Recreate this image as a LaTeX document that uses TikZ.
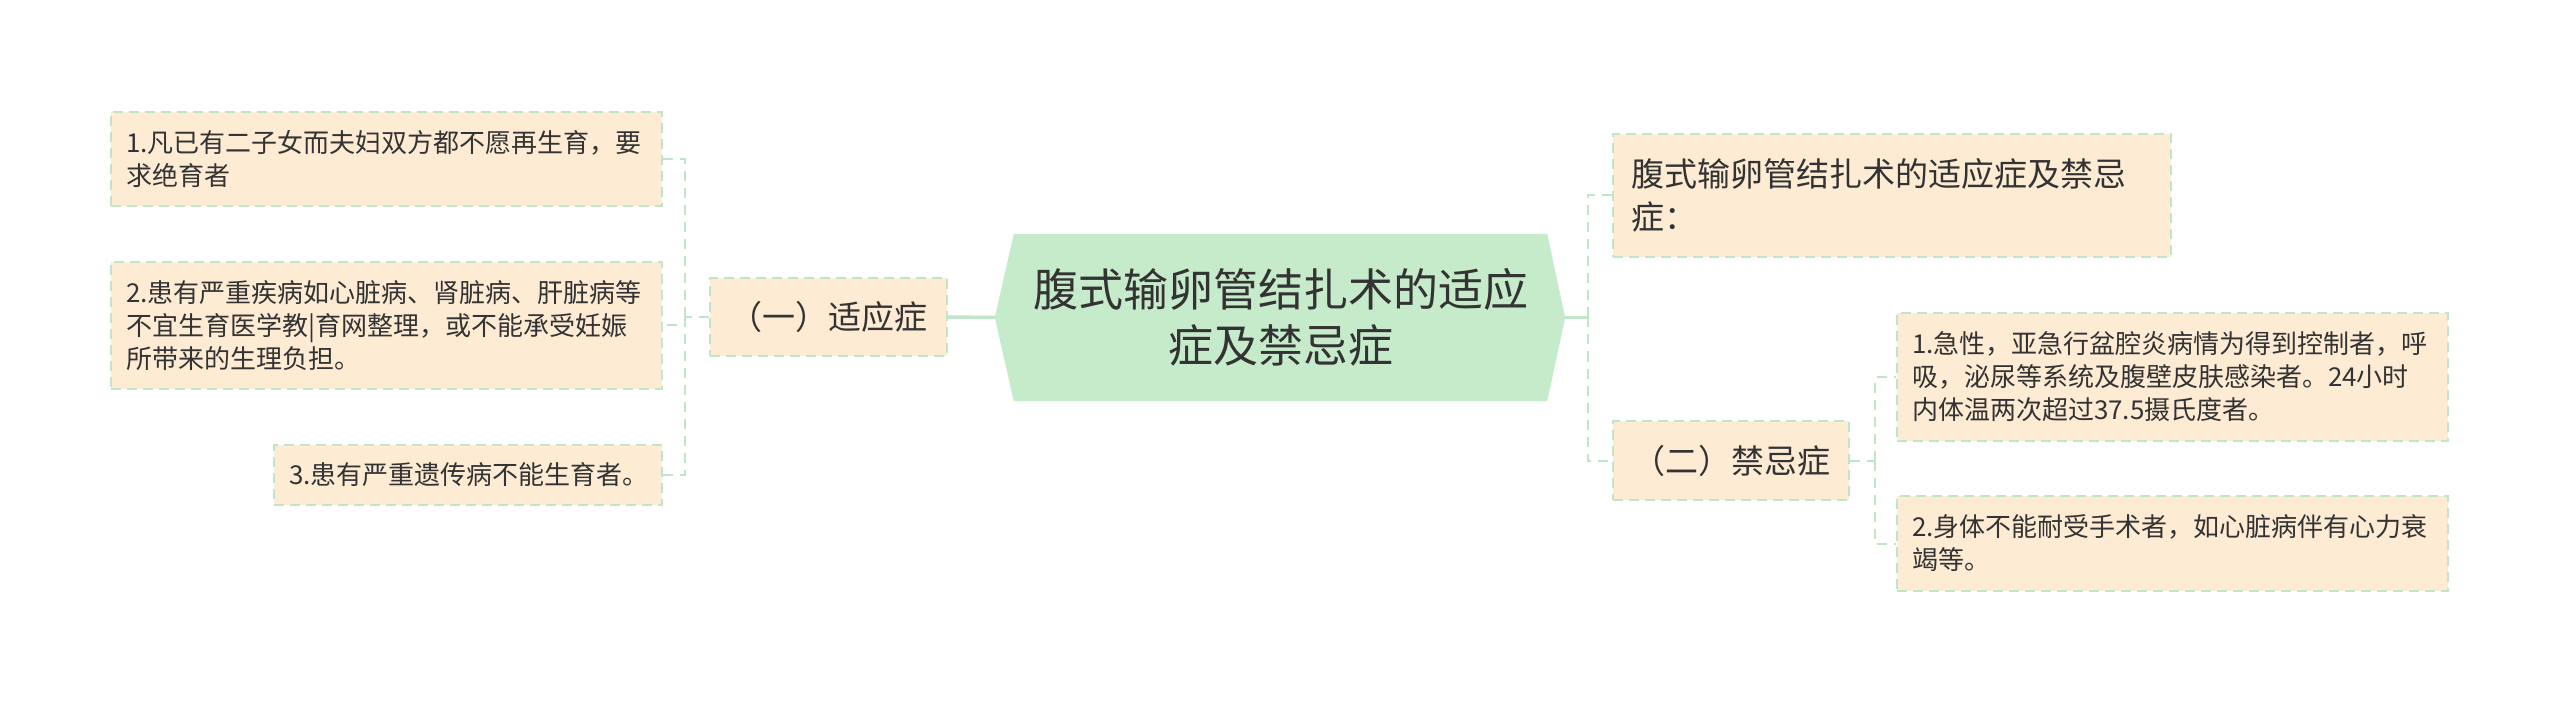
\documentclass[tikz,border=0pt]{standalone}
\usepackage{fontspec}
\setmainfont{Noto Sans CJK SC}
\usetikzlibrary{backgrounds}
\definecolor{peach}{HTML}{FDEBD4}
\definecolor{rootfill}{HTML}{C6EBCB}
\definecolor{lline}{HTML}{BFE6C8}
\definecolor{txt}{HTML}{333333}
\begin{document}
\begin{tikzpicture}[x=1pt,y=-1pt,
  box/.style={draw=lline, line width=2pt, dash pattern=on 10pt off 6pt, fill=peach, text=txt, inner ysep=0pt},
  leaf/.style={box, align=left, inner xsep=15pt, font=\fontsize{26}{33}\selectfont},
  lvlone/.style={box, align=center, inner xsep=0pt, font=\fontsize{33}{43}\selectfont},
  lvlonewide/.style={box, align=left, inner xsep=18pt, font=\fontsize{33}{43}\selectfont},
  rootnode/.style={text=txt, align=center, inner sep=0pt, font=\fontsize{45}{56}\selectfont},
  solidconn/.style={draw=lline, line width=3.5pt},
  dashconn/.style={draw=lline, line width=2pt, dash pattern=on 10pt off 7pt}]
\begin{scope}[on background layer]
\fill[white] (0,0) rectangle (2560,703);
\end{scope}
\useasboundingbox (0,0) rectangle (2560,703);

% root
\node[rootnode, minimum width=533pt, minimum height=167pt] (root) at (1280.5,317.5)
  {腹式输卵管结扎术的适应\\症及禁忌症};
\coordinate (rootL) at ([xshift=-19pt]root.west);
\coordinate (rootR) at ([xshift=18pt]root.east);
\begin{scope}[on background layer]
\fill[rootfill] (root.north west) -- (root.north east) -- (rootR) -- (root.south east)
  -- (root.south west) -- (rootL) -- cycle;
\end{scope}

% level one
\node[lvlone, minimum width=237pt, minimum height=78pt] (a) at (828.5,317) {（一）适应症};
\node[lvlonewide, text width=522pt, minimum height=123pt] (b) at (1892,195.5)
  {腹式输卵管结扎术的适应症及禁忌\\症：};
\node[lvlone, minimum width=236pt, minimum height=79pt] (c) at (1731,460.5) {（二）禁忌症};

% leaves left
\node[leaf, text width=521pt, minimum height=94pt] (a1) at (386.5,159)
  {1.凡已有二子女而夫妇双方都不愿再生育，要\\求绝育者};
\node[leaf, text width=521pt, minimum height=127pt] (a2) at (386.5,325.5)
  {2.患有严重疾病如心脏病、肾脏病、肝脏病等\\不宜生育医学教|育网整理，或不能承受妊娠\\所带来的生理负担。};
\node[leaf, text width=358pt, minimum height=60pt] (a3) at (468,475)
  {3.患有严重遗传病不能生育者。};

% leaves right
\node[leaf, text width=521pt, minimum height=128pt] (c1) at (2172.5,377)
  {1.急性，亚急行盆腔炎病情为得到控制者，呼\\吸，泌尿等系统及腹壁皮肤感染者。24小时\\内体温两次超过37.5摄氏度者。};
\node[leaf, text width=521pt, minimum height=95pt] (c2) at (2172.5,543.5)
  {2.身体不能耐受手术者，如心脏病伴有心力衰\\竭等。};

% connectors
\begin{scope}[on background layer]
\draw[solidconn] (a.east) -- (rootL);
\draw[solidconn] (rootR) -- ++(23,0) coordinate (rj);
\draw[dashconn] (rj) |- (b.west);
\draw[dashconn] (rj) |- (c.west);
\draw[dashconn] (a.west) -- ++(-24,0) coordinate (lj);
\draw[dashconn] (lj) |- (a1.east);
\draw[dashconn] (lj) |- (a2.east);
\draw[dashconn] (lj) |- (a3.east);
\draw[dashconn] (c.east) -- ++(25,0) coordinate (cj);
\draw[dashconn] (cj) |- (c1.west);
\draw[dashconn] (cj) |- (c2.west);
\end{scope}
\end{tikzpicture}
\end{document}
